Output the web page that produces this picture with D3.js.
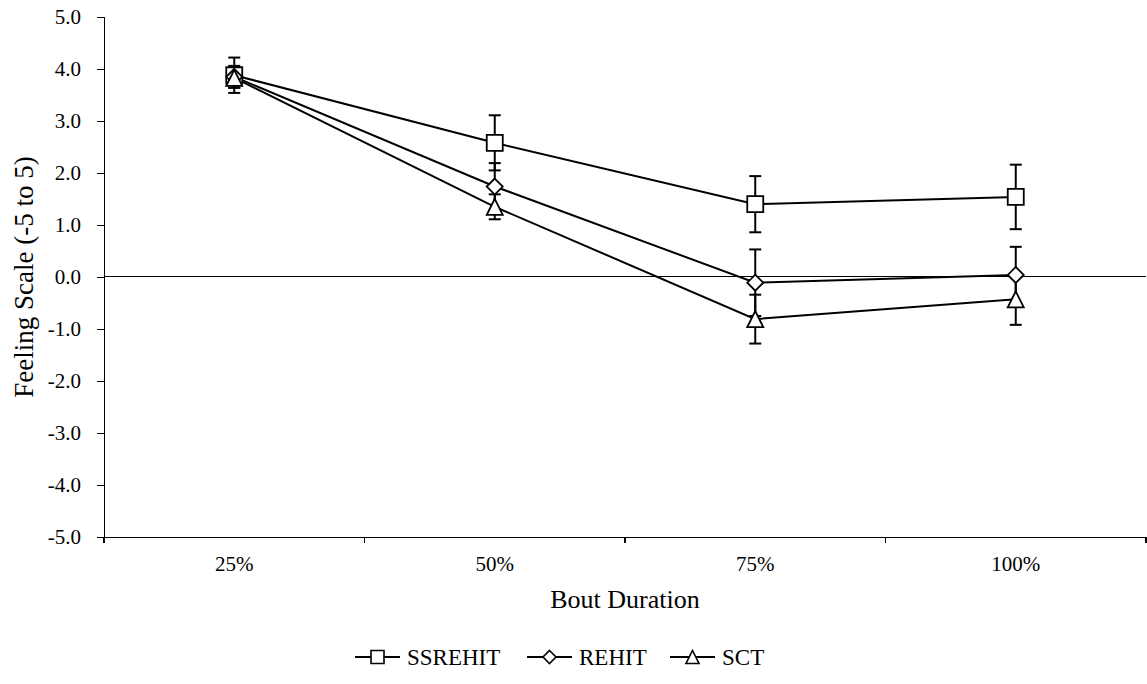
<!DOCTYPE html>
<html lang="en">
<head>
<meta charset="UTF-8">
<title>Feeling Scale</title>
<script src="https://d3js.org/d3.v7.min.js"></script>
<style>
    body { margin: 0; background: #fff; }
    svg text { font-family: 'Liberation Serif', 'Times New Roman', serif; fill: #000; }
</style>
</head>
<body>
<div id="chart"></div>
<script>
// data
var durations = ["25%", "50%", "75%", "100%"];
var seriesNames = ["SSREHIT", "REHIT", "SCT"];
var ssrehit = [3.88, 2.58, 1.40, 1.54];
var ssrehitErr = [0.34, 0.53, 0.54, 0.62];
var rehit = [3.85, 1.74, -0.11, 0.04];
var rehitErr = [0.21, 0.45, 0.64, 0.54];
var sct = [3.83, 1.35, -0.81, -0.43];
var sctErr = [0.19, 0.24, 0.47, 0.49];
var yTicks = [-5, -4, -3, -2, -1, 0, 1, 2, 3, 4, 5];

var W = 1147, H = 684;
var margin = {top: 17, right: 1, bottom: 147, left: 104};
var serif = "'Liberation Serif', 'Times New Roman', serif";

var svg = d3.select("#chart").append("svg")
    .attr("width", W).attr("height", H)
    .attr("font-family", serif);

var x = d3.scaleBand()
    .domain(durations)
    .range([margin.left, W - margin.right]);

var y = d3.scaleLinear()
    .domain([-5, 5])
    .range([H - margin.bottom, margin.top]);

var series = [
    {name: seriesNames[0], vals: ssrehit, err: ssrehitErr, shape: "square"},
    {name: seriesNames[1], vals: rehit, err: rehitErr, shape: "diamond"},
    {name: seriesNames[2], vals: sct, err: sctErr, shape: "triangle"}
];

// plain hyphen for negatives, like the original
var fmt = function(d) { return d3.format(".1f")(d).replace("\u2212", "-"); };

// y axis
var yAxis = svg.append("g")
    .attr("transform", "translate(" + margin.left + ",0)")
    .call(d3.axisLeft(y).tickValues(yTicks).tickSize(7).tickPadding(16).tickFormat(fmt));
yAxis.attr("font-family", serif);
yAxis.selectAll(".domain, .tick line").attr("stroke-width", 1.2).attr("shape-rendering", "crispEdges");
yAxis.selectAll("text").style("font-size", "21px");

// x axis at bottom (-5)
var xAxis = svg.append("g")
    .attr("transform", "translate(0," + y(-5) + ")")
    .call(d3.axisBottom(x).tickSize(0).tickPadding(19));
xAxis.attr("font-family", serif);
xAxis.select(".domain").attr("stroke-width", 1.2).attr("shape-rendering", "crispEdges");
xAxis.selectAll("text").style("font-size", "21px");
// category boundary ticks
xAxis.selectAll(".bound")
    .data(durations.concat(["end"]))
    .enter().append("line")
    .attr("x1", function(d, i) { return margin.left + i * x.step(); })
    .attr("x2", function(d, i) { return margin.left + i * x.step(); })
    .attr("y1", 0).attr("y2", 6)
    .attr("stroke", "#000").attr("stroke-width", 1.2)
    .attr("shape-rendering", "crispEdges");

// zero line
svg.append("line")
    .attr("x1", margin.left).attr("x2", W - margin.right)
    .attr("y1", y(0) - 0.5).attr("y2", y(0) - 0.5)
    .attr("stroke", "#000").attr("stroke-width", 1)
    .attr("shape-rendering", "crispEdges");

// axis titles
svg.append("text")
    .attr("x", x.range()[0] + (x.range()[1] - x.range()[0]) / 2)
    .attr("y", 608)
    .attr("text-anchor", "middle")
    .style("font-size", "26px")
    .text("Bout Duration");

svg.append("text")
    .attr("transform", "translate(33," + y(0) + ") rotate(-90)")
    .attr("text-anchor", "middle")
    .style("font-size", "27px")
    .text("Feeling Scale (-5 to 5)");

function cx(i) { return x(durations[i]) + x.bandwidth() / 2; }

function markerPath(shape, s) {
    var h = s / 2;
    if (shape === "square") return "M" + (-h) + "," + (-h) + "h" + s + "v" + s + "h" + (-s) + "Z";
    if (shape === "diamond") return "M0," + (-h) + "L" + h + ",0L0," + h + "L" + (-h) + ",0Z";
    return "M0," + (-h) + "L" + h + "," + h + "L" + (-h) + "," + h + "Z";
}

// error bars
series.forEach(function(s) {
    var g = svg.append("g");
    s.vals.forEach(function(v, i) {
        var top = y(v + s.err[i]), bot = y(v - s.err[i]);
        g.append("line").attr("x1", cx(i)).attr("x2", cx(i)).attr("y1", top).attr("y2", bot)
            .attr("stroke", "#000").attr("stroke-width", 2);
        [top, bot].forEach(function(yy) {
            g.append("line").attr("x1", cx(i) - 6).attr("x2", cx(i) + 6).attr("y1", yy).attr("y2", yy)
                .attr("stroke", "#000").attr("stroke-width", 2);
        });
    });
});

// lines
var line = d3.line()
    .x(function(d, i) { return cx(i); })
    .y(function(d) { return y(d); });

series.forEach(function(s) {
    svg.append("path")
        .datum(s.vals)
        .attr("d", line)
        .attr("fill", "none")
        .attr("stroke", "#000")
        .attr("stroke-width", 2);
});

// markers
series.forEach(function(s) {
    svg.append("g").selectAll("path")
        .data(s.vals)
        .enter().append("path")
        .attr("transform", function(d, i) { return "translate(" + cx(i) + "," + y(d) + ")"; })
        .attr("d", markerPath(s.shape, 16))
        .attr("fill", "#fff")
        .attr("stroke", "#000")
        .attr("stroke-width", 1.8);
});

// legend
var legendX = [355, 527, 670];
var legend = svg.append("g");
series.forEach(function(s, i) {
    var g = legend.append("g").attr("transform", "translate(" + legendX[i] + ",657)");
    g.append("line").attr("x1", 0).attr("x2", 45).attr("y1", 0).attr("y2", 0)
        .attr("stroke", "#000").attr("stroke-width", 2);
    g.append("path").attr("transform", "translate(22.5,0)")
        .attr("d", markerPath(s.shape, 13))
        .attr("fill", "#fff").attr("stroke", "#000").attr("stroke-width", 1.6);
    g.append("text").attr("x", 52).attr("y", 8)
        .style("font-size", "23px")
        .text(s.name);
});
</script>
</body>
</html>
